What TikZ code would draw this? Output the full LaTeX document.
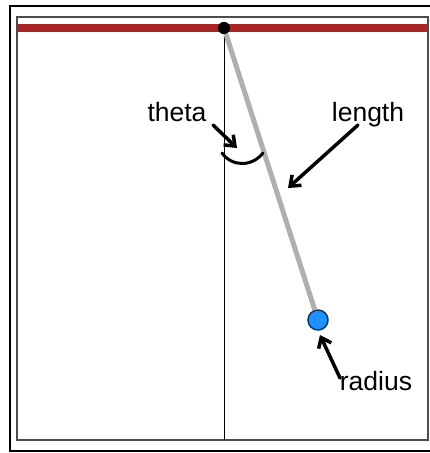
\documentclass[tikz,border=0pt]{standalone}
\usepackage{fontspec}
\setmainfont{Liberation Sans}
\usepackage{xcolor}
\usetikzlibrary{arrows.meta,positioning,calc}
\definecolor{barred}{RGB}{170,38,38}
\definecolor{rodgray}{RGB}{175,175,175}
\definecolor{bobblue}{RGB}{30,144,255}
\tikzset{
  lbl/.style ={inner sep=0pt,anchor=base,font=\fontsize{26.5}{30}\selectfont},
  pin/.style ={circle,fill=black,minimum size=12pt,inner sep=0pt},
  bob/.style ={circle,draw=black!60!bobblue,line width=1.5pt,fill=bobblue,minimum size=20pt,inner sep=0pt},
  ar/.style  ={-{Straight Barb[length=9pt,width=14pt]},line width=3.5pt,line cap=round},
}
\begin{document}
\begin{tikzpicture}[x=1pt,y=-1pt]
  \useasboundingbox (0,0) rectangle (430,453);
  % frames
  \draw[line width=1.5pt] (10,6) rectangle (434,451);
  \draw[line width=2pt,black!70] (17,17) rectangle (428,440);
  \draw[line width=8pt,barred] (18,28) -- (427,28);
  % pendulum
  \node[pin] (P) at (224,28) {};
  \coordinate (B0) at (224,440);
  \draw[line width=1pt] (P.center) -- (B0);
  \node[bob] (B) at (318,320) {};
  \draw[line width=5pt,rodgray] (P.center) -- (B);
  \node[pin] at (P) {};
  % labels
  \node[lbl] (th) at (177,121) {theta};
  \node[lbl] (len) at (368,121) {length};
  \node[lbl] (rad) at (376,390) {radius};
  \coordinate (tha) at (213,125);
  \coordinate (lena) at (358,125);
  \coordinate (rada) at (340,378);
  \draw[ar] (tha) -- (237,148);
  \draw[ar] (lena) -- (288,188);
  \draw[ar] (rada) -- (320,335);
  \draw[line width=3pt,line cap=round] (222,153) .. controls (232,167) and (252,167) .. (263,153);
\end{tikzpicture}
\end{document}
